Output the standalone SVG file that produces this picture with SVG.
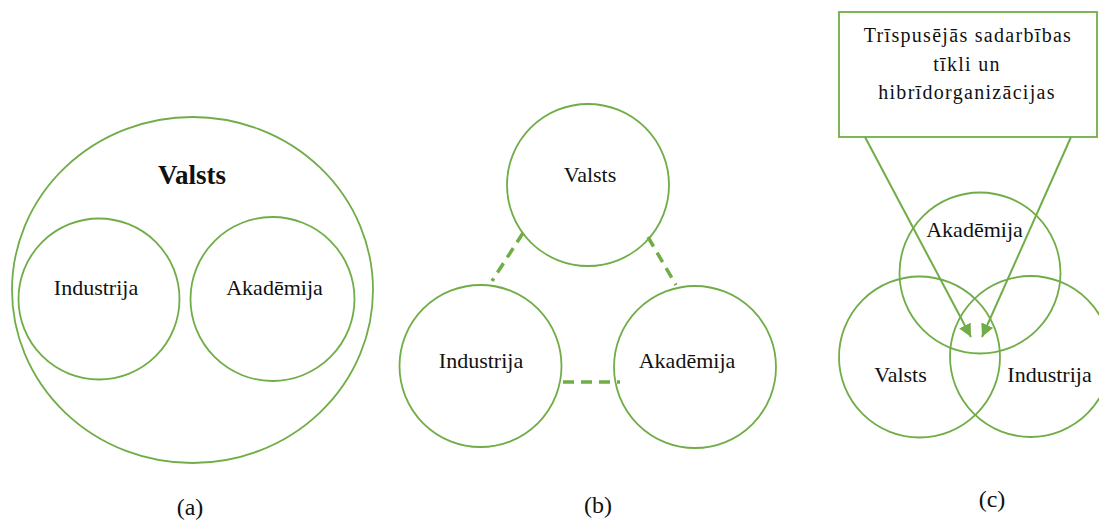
<svg xmlns="http://www.w3.org/2000/svg" width="1099" height="522" viewBox="0 0 1099 522">
<style>
.c{fill:none;stroke:#70AD47;stroke-width:1.8}
.t{font-family:"Liberation Serif","Times New Roman",serif;font-size:22px;fill:#111;text-anchor:middle}
.b{font-weight:bold;font-size:27px}
.cap{font-family:"Liberation Serif","Times New Roman",serif;font-size:24px;fill:#111;text-anchor:middle}
.bx{font-family:"Liberation Serif","Times New Roman",serif;font-size:20px;letter-spacing:1.3px;fill:#111;text-anchor:middle}
.d{stroke:#70AD47;stroke-width:3.5;stroke-dasharray:11 7;fill:none}
.a{stroke:#70AD47;stroke-width:2;fill:none;marker-end:url(#ah)}
</style>
<defs>
<marker id="ah" viewBox="0 0 10 10" refX="10" refY="5" markerWidth="6.5" markerHeight="6.5" orient="auto" markerUnits="strokeWidth">
<path d="M0,0 L10,5 L0,10 Z" fill="#70AD47"/>
</marker>
</defs>
<rect width="1099" height="522" fill="#fff"/>
<!-- (a) -->
<g id="a-valsts"><ellipse class="c" cx="192.5" cy="290" rx="180.5" ry="173"/><text class="t b" x="192" y="184">Valsts</text></g>
<g id="a-industrija"><circle class="c" cx="99" cy="299" r="80.5"/><text class="t" x="96" y="295">Industrija</text></g>
<g id="a-akademija"><circle class="c" cx="272.5" cy="299" r="82"/><text class="t" x="274.5" y="295">Akadēmija</text></g>
<text class="cap" x="190" y="515">(a)</text>
<!-- (b) -->
<g id="b-valsts"><circle class="c" cx="588" cy="185" r="81"/><text class="t" x="590" y="182">Valsts</text></g>
<g id="b-industrija"><circle class="c" cx="480.5" cy="366" r="81"/><text class="t" x="481" y="368">Industrija</text></g>
<g id="b-akademija"><circle class="c" cx="695" cy="367" r="81"/><text class="t" x="687" y="368">Akadēmija</text></g>
<g id="b-connectors">
<line class="d" x1="523" y1="233" x2="492" y2="281"/>
<line class="d" x1="648" y1="237" x2="676" y2="285"/>
<line class="d" x1="563" y1="382" x2="620" y2="382"/>
</g>
<text class="cap" x="598" y="513">(b)</text>
<!-- (c) -->
<g id="c-box"><rect class="c" x="839" y="12" width="258" height="125"/>
<text class="bx" x="968" y="42">Trīspusējās sadarbības</text>
<text class="bx" x="967" y="71">tīkli un</text>
<text class="bx" x="967" y="99">hibrīdorganizācijas</text></g>
<g id="c-akademija"><circle class="c" cx="980" cy="273" r="80.5"/><text class="t" x="974.5" y="237">Akadēmija</text></g>
<g id="c-valsts"><circle class="c" cx="919.5" cy="357" r="80.5"/><text class="t" x="900.5" y="382">Valsts</text></g>
<g id="c-industrija"><circle class="c" cx="1030.5" cy="356.5" r="80.5"/><text class="t" x="1049.5" y="382">Industrija</text></g>
<g id="c-connectors">
<line class="a" x1="865" y1="137" x2="971" y2="337"/>
<line class="a" x1="1071" y1="137" x2="982" y2="337"/>
</g>
<text class="cap" x="992" y="507">(c)</text>
</svg>
